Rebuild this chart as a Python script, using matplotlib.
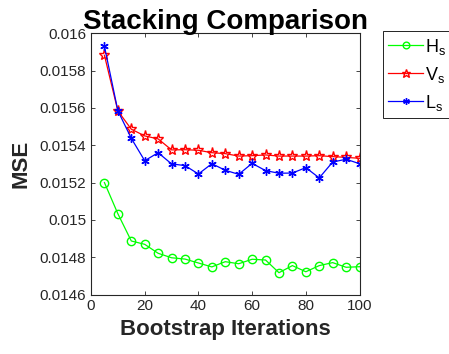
import numpy as np
import matplotlib
matplotlib.use('Agg')
import matplotlib.pyplot as plt

plt.rcParams['font.family'] = ['Liberation Sans', 'DejaVu Sans']
plt.rcParams['mathtext.fontset'] = 'custom'
plt.rcParams['mathtext.rm'] = 'Liberation Sans'

### bootstrap iteration counts
iterations = np.arange(5, 101, 5)

### MSE for each stacking method
mseH = [0.01520, 0.015033, 0.014887, 0.014869, 0.014821, 0.014797, 0.014790,
        0.014769, 0.014748, 0.014776, 0.014765, 0.014789, 0.014785, 0.014717,
        0.014755, 0.014722, 0.014755, 0.014771, 0.014746, 0.014749]
mseV = [0.015882, 0.015584, 0.015486, 0.015450, 0.015434, 0.015375, 0.015376,
        0.015373, 0.015360, 0.015355, 0.015342, 0.015344, 0.015348, 0.015342,
        0.015342, 0.015342, 0.015344, 0.015339, 0.015335, 0.015330]
mseL = [0.015930, 0.015585, 0.015437, 0.015317, 0.015360, 0.015300, 0.015291,
        0.015246, 0.015301, 0.015266, 0.015244, 0.015303, 0.015264, 0.015250,
        0.015251, 0.015280, 0.015225, 0.015310, 0.015325, 0.015301]

labels = [r'H$_\mathrm{s}$', r'V$_\mathrm{s}$', r'L$_\mathrm{s}$']
yticks = [0.0146, 0.0148, 0.015, 0.0152, 0.0154, 0.0156, 0.0158, 0.016]
xticks = [0, 20, 40, 60, 80, 100]

dark = '#262626'

fig = plt.figure(figsize=(4.49, 3.54), dpi=100)
ax = fig.add_axes([0.2027, 0.168, 0.598, 0.738])

ax.plot(iterations, mseH, color=(0, 1, 0), marker='o', markersize=6,
        markerfacecolor='none', linewidth=0.9, label=labels[0])
ax.plot(iterations, mseV, color=(1, 0, 0), marker='*', markersize=8,
        markerfacecolor='none', linewidth=0.9, label=labels[1])
ax.plot(iterations, mseL, color=(0, 0, 1), marker=(6, 2, 0), markersize=6,
        linewidth=0.9, label=labels[2])

ax.set_xlim(0, 100)
ax.set_ylim(0.0146, 0.016)
ax.set_xticks(xticks)
ax.set_yticks(yticks)
ax.set_yticklabels(['%g' % t for t in yticks])
ax.tick_params(direction='in', top=True, right=True, labelsize=11,
               colors=dark, length=3, width=0.6)
for sp in ax.spines.values():
    sp.set_color(dark)
    sp.set_linewidth(0.8)

ax.set_title('Stacking Comparison', fontsize=20, fontweight='bold', pad=3)
ax.set_xlabel('Bootstrap Iterations', fontsize=16, fontweight='bold', color=dark)
ax.set_ylabel('MSE', fontsize=16, fontweight='bold', color=dark, labelpad=6)

leg = fig.legend(loc='upper left', bbox_to_anchor=(0.853, 0.912),
                 fontsize=13, fancybox=False, framealpha=1, edgecolor='black',
                 handlelength=1.9, borderaxespad=0, borderpad=0.3,
                 labelspacing=0.45, handletextpad=0.15, markerscale=0.8)
leg.get_frame().set_linewidth(0.6)

fig.savefig('out.png', dpi=100)
